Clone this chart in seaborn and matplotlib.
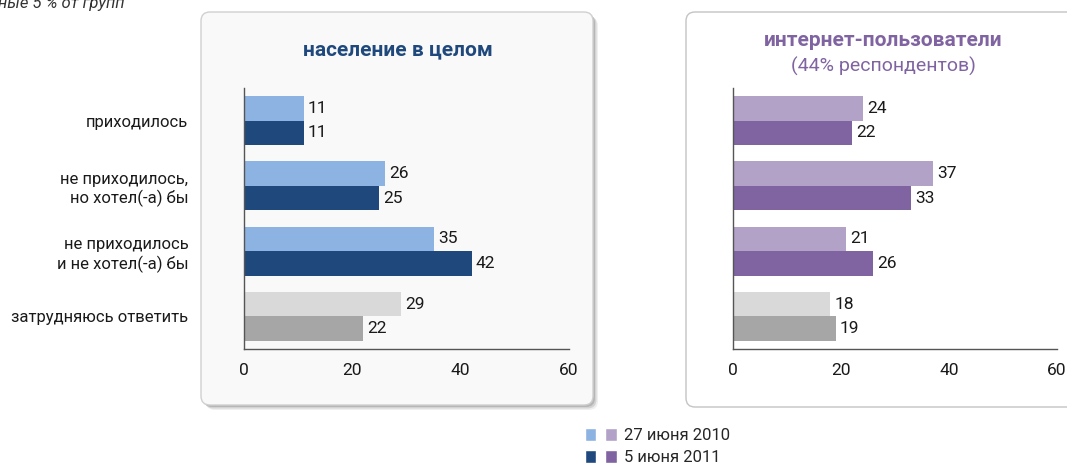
import numpy as np
import pandas as pd
import matplotlib
matplotlib.use("Agg")
import matplotlib.pyplot as plt
import seaborn as sns
from matplotlib.patches import FancyBboxPatch, Patch
from matplotlib.transforms import IdentityTransform
from matplotlib.legend_handler import HandlerTuple

# data
categories = ["приходилось", "не приходилось,\nно хотел(-а) бы",
              "не приходилось\nи не хотел(-а) бы", "затрудняюсь ответить"]
periods = ["27 июня 2010", "5 июня 2011"]
all_2010 = [11, 26, 35, 29]
all_2011 = [11, 25, 42, 22]
net_2010 = [24, 37, 21, 18]
net_2011 = [22, 33, 26, 19]
x_ticks = [0, 20, 40, 60]

blue = ["#8db3e2", "#1f497d"]
purple = ["#b2a2c7", "#8064a2"]
grays = ["#d9d9d9", "#a6a6a6"]

sns.set_style("white")
plt.rcParams["font.family"] = ["Roboto", "DejaVu Sans"]
plt.rcParams["font.size"] = 12

W, H = 1067, 474
fig = plt.figure(figsize=(W / 100, H / 100), dpi=100)


def panel_box(x0, y0, x1, y1, face, edge, shadow):
    # decorative rounded panels, pixel units (origin bottom-left)
    if shadow:
        for off, a in [(5, 0.12), (3.5, 0.25), (2, 0.35)]:
            fig.patches.append(FancyBboxPatch(
                (x0 + off, H - y1 - off), x1 - x0, y1 - y0,
                boxstyle="round,pad=0,rounding_size=9", transform=IdentityTransform(),
                facecolor="#808080", edgecolor="none", alpha=a, zorder=-2))
    fig.patches.append(FancyBboxPatch(
        (x0, H - y1), x1 - x0, y1 - y0,
        boxstyle="round,pad=0,rounding_size=9", transform=IdentityTransform(),
        facecolor=face, edgecolor=edge, linewidth=1, zorder=-1))


panel_box(201, 12, 593, 405, "#f9f9f9", "#d0d0d0", True)
panel_box(686, 12, 1080, 407, "white", "#c4c4c4", False)


def make_df(v1, v2):
    return pd.DataFrame({
        "cat": categories * 2,
        "val": v1 + v2,
        "period": [periods[0]] * len(categories) + [periods[1]] * len(categories),
    })


def draw(ax, v1, v2, colors, show_labels):
    df = make_df(v1, v2)
    sns.barplot(data=df, y="cat", x="val", hue="period", orient="h",
                palette=colors, width=0.75, ax=ax, legend=False, saturation=1,
                linewidth=0)
    # last category is shown in gray
    for i, cont in enumerate(ax.containers):
        cont.patches[-1].set_facecolor(grays[i])
        ax.bar_label(cont, padding=3, fontsize=12.5, color="#1a1a1a")
    ax.set_xlim(0, 60)
    ax.set_xticks(x_ticks)
    ax.set_xlabel("")
    ax.set_ylabel("")
    ax.set_facecolor("none")
    for s in ["top", "right"]:
        ax.spines[s].set_visible(False)
    for s in ["left", "bottom"]:
        ax.spines[s].set_color("#555555")
        ax.spines[s].set_linewidth(1)
    ax.tick_params(axis="x", direction="out", length=4, color="#555555",
                   labelsize=12.5, labelcolor="#1a1a1a", pad=6)
    if show_labels:
        ax.tick_params(axis="y", length=0, pad=40, labelsize=12, labelcolor="#1a1a1a")
    else:
        ax.tick_params(axis="y", length=0, labelleft=False)


ax1 = fig.add_axes([244 / W, 1 - 349 / H, 325 / W, 261 / H])
ax2 = fig.add_axes([733 / W, 1 - 349 / H, 324 / W, 261 / H])
draw(ax1, all_2010, all_2011, blue, True)
draw(ax2, net_2010, net_2011, purple, False)
for lab in ax1.get_yticklabels():
    lab.set_linespacing(1.25)

fig.text(398 / W, 1 - 50 / H, "население в целом", ha="center", va="center",
         fontsize=15, fontweight="bold", color="#1f497d")
fig.text(883 / W, 1 - 41 / H, "интернет-пользователи", ha="center", va="center",
         fontsize=15, fontweight="bold", color="#8064a2")
fig.text(883 / W, 1 - 66 / H, "(44% респондентов)", ha="center", va="center",
         fontsize=14, color="#8064a2")

# clipped note at the very top (cut off in the source too)
fig.text(-2 / W, 1 - 8 / H, "ные 5 % от групп", ha="left", va="baseline",
         fontsize=12, style="italic", color="#333333")

h1 = (Patch(facecolor=blue[0]), Patch(facecolor=purple[0]))
h2 = (Patch(facecolor=blue[1]), Patch(facecolor=purple[1]))
fig.legend(handles=[h1, h2], labels=periods,
           handler_map={tuple: HandlerTuple(ndivide=None, pad=0.55)},
           loc="upper left", bbox_to_anchor=(585 / W, 1 - 428 / H),
           frameon=False, fontsize=12, handlelength=1.9, handleheight=0.8,
           handletextpad=0.45, labelspacing=0.4, borderaxespad=0, borderpad=0)

fig.savefig("out.png", dpi=100, facecolor="white")
